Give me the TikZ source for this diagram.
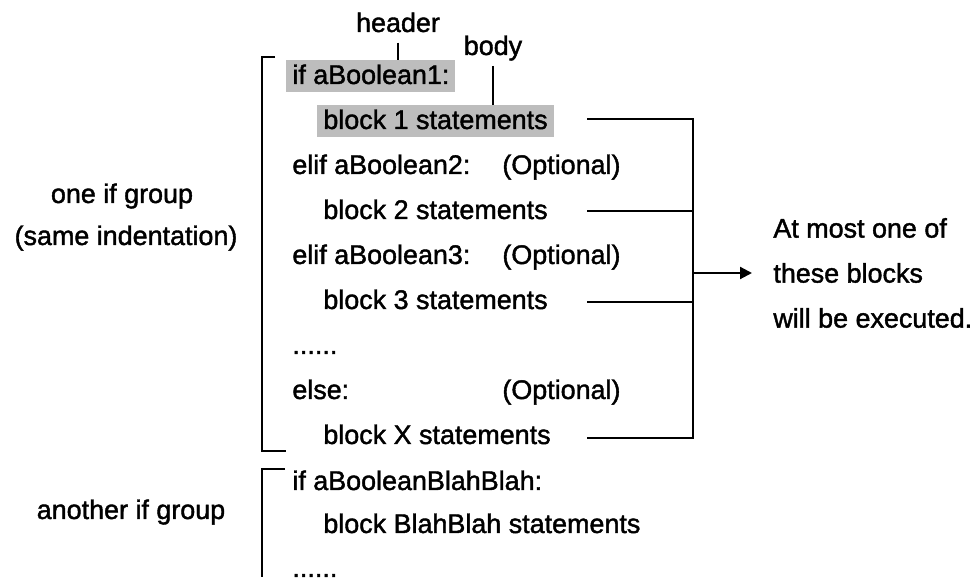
\documentclass[tikz,border=0pt]{standalone}
\usepackage{fontspec}
\setmainfont{Liberation Sans}[FakeBold=1.5]
\usetikzlibrary{arrows.meta,positioning}
\definecolor{hlgrey}{RGB}{189,189,189}
\tikzset{
  code/.style={anchor=base west,inner xsep=3pt,inner ysep=0pt,text height=12pt,text depth=4pt},
  hl/.style={code,fill=hlgrey},
  lbl/.style={anchor=base,inner sep=0pt},
  line/.style={line width=1.1pt},
}
\begin{document}
\begin{tikzpicture}[x=0.5pt,y=-0.5pt,font=\fontsize{13.45}{22.5}\selectfont]
    \useasboundingbox (0,0) rectangle (976,581);
    % left labels
    \node[lbl] (one) at (122,203) {one if group};
    \node[lbl] (same) at (126,245) {(same indentation)};
    \node[lbl] (another) at (131,519) {another if group};
    \node[lbl] (header) at (398,32) {header};
    \node[lbl] (body) at (493,55) {body};
    % first if group
    \node[hl] (if1) at (286,84) {if aBoolean1:};
    \node[hl] (b1) at (317,129) {block 1 statements};
    \node[code] (elif2) at (286,174) {elif aBoolean2:};
    \node[code] (opt2) at (496,174) {(Optional)};
    \node[code] (b2) at (317,219) {block 2 statements};
    \node[code] (elif3) at (286,264) {elif aBoolean3:};
    \node[code] (opt3) at (496,264) {(Optional)};
    \node[code] (b3) at (317,309) {block 3 statements};
    \node[code] (dots1) at (286,354) {......};
    \node[code] (else) at (286,399) {else:};
    \node[code] (optX) at (496,399) {(Optional)};
    \node[code] (bX) at (317,444) {block X statements};
    % second if group
    \node[code] (ifB) at (286,490) {if aBooleanBlahBlah:};
    \node[code] (bB) at (317,533) {block BlahBlah statements};
    \node[code] (dots2) at (286,577) {......};
    \node[anchor=west,align=left,inner sep=0pt] (note) at (773,273) {At most one of\\these blocks\\will be executed.};
    % brackets
    \draw[line] (275,57) -- (262,57) -- (262,451) -- (286,451);
    \draw[line] (285,469) -- (262,469) -- (262,577);
    \draw[line] ([yshift=-5pt]header.south) -- (header.south |- if1.north);
    \draw[line] ([yshift=-2.5pt]body.south) -- (body.south |- b1.north);
    % lines to the note
    \coordinate (bus) at (693,119);
    \coordinate (r1) at (587,119);
    \coordinate (r2) at (587,211);
    \coordinate (r3) at (587,302);
    \coordinate (rX) at (587,438);
    \draw[line] (r1) -- (r1 -| bus) -- (rX -| bus) -- (rX);
    \draw[line] (r2) -- (r2 -| bus);
    \draw[line] (r3) -- (r3 -| bus);
    \draw[line,-{Triangle[length=6pt,width=6pt]}] (bus |- note.west) -- ([xshift=-10.5pt]note.west);
\end{tikzpicture}
\end{document}
